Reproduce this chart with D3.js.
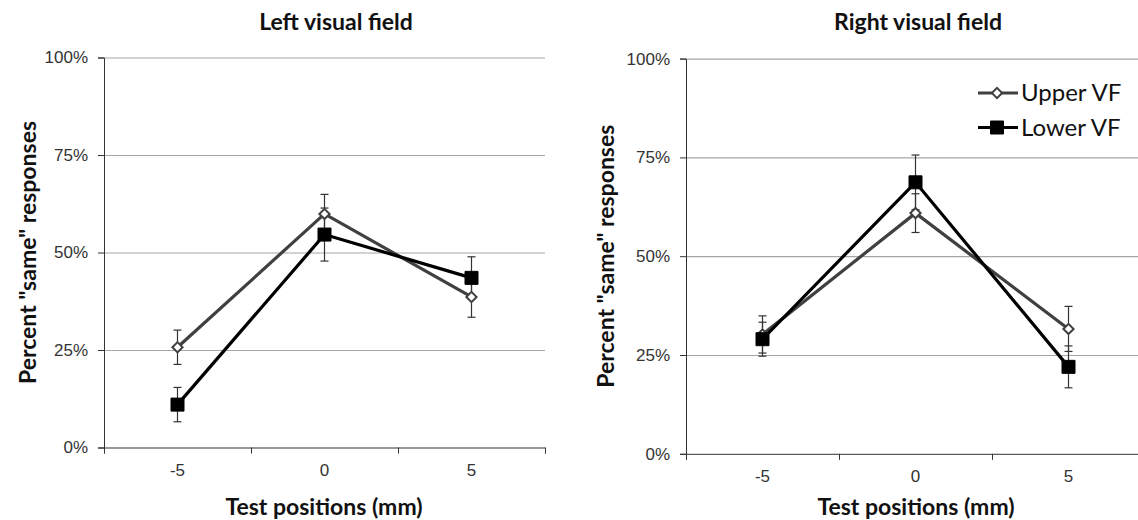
<!DOCTYPE html>
<html>
<head>
<meta charset="utf-8">
<script src="https://cdn.jsdelivr.net/npm/d3@7"></script>
<style>
  body { margin: 0; background: #fff; }
  svg { display: block; font-family: Lato, "Open Sans", sans-serif; }
  .tick-label { font-size: 17px; fill: #333; }
  .panel-title { font-size: 23px; font-weight: bold; fill: #111; }
  .axis-title { font-size: 23px; font-weight: bold; fill: #111; }
  .legend-label { font-size: 24px; fill: #111; }
</style>
</head>
<body>
<svg width="1138" height="520"></svg>
<script>
const svg = d3.select("svg")

// categories and tick labels
const positions = ["-5", "0", "5"]
const yTicks = [0, 25, 50, 75, 100]
const seriesNames = ["Upper VF", "Lower VF"]

// left visual field (percent "same")
const leftUpper = [25.7, 59.9, 38.6]
const leftUpperErr = [4.4, 5.0, 5.2]
const leftLower = [11.0, 54.6, 43.5]
const leftLowerErr = [4.4, 6.8, 5.4]

// right visual field
const rightUpper = [30.2, 60.9, 31.6]
const rightUpperErr = [4.7, 4.9, 5.7]
const rightLower = [29.0, 68.7, 22.0]
const rightLowerErr = [4.3, 6.9, 5.3]

const panels = [
  {
    title: "Left visual field",
    upper: leftUpper, upperErr: leftUpperErr,
    lower: leftLower, lowerErr: leftLowerErr,
    x0: 104, x1: 545, top: 57.5, bottom: 447.5,
    titleX: 336, xTitleX: 324, yTitleX: 28, legend: false
  },
  {
    title: "Right visual field",
    upper: rightUpper, upperErr: rightUpperErr,
    lower: rightLower, lowerErr: rightLowerErr,
    x0: 686, x1: 1145, top: 58.6, bottom: 453.8,
    titleX: 918, xTitleX: 916, yTitleX: 606, legend: true
  }
]

const upperColor = "#404040"
const lowerColor = "#000"

const diamond = d3.symbol().type(d3.symbolSquare).size(52)
const square = d3.symbol().type(d3.symbolSquare).size(169)

const drawPanel = (p) => {
  const xScale = d3.scaleBand().domain(positions).range([p.x0, p.x1])
  const cx = (d) => xScale(d) + xScale.bandwidth() / 2
  const yScale = d3.scaleLinear().domain([0, 100]).range([p.bottom, p.top])
  const idx = d3.scaleLinear().domain([0, positions.length]).range([p.x0, p.x1])
  const g = svg.append("g")

  // gridlines
  const grid = g.append("g")
    .attr("transform", `translate(${p.x0},0)`)
    .call(d3.axisLeft(yScale).tickValues(yTicks.slice(1)).tickSize(-(p.x1 - p.x0)).tickFormat(""))
  grid.select(".domain").remove()
  grid.selectAll("line").attr("stroke", "#a6a6a6").attr("stroke-width", 1.2)

  // y axis
  const yAxisG = g.append("g")
    .attr("transform", `translate(${p.x0},0)`)
    .call(d3.axisLeft(yScale).tickValues(yTicks).tickSize(6).tickPadding(10).tickFormat((d) => d + "%"))
  yAxisG.select(".domain").attr("stroke", "#333")
  yAxisG.selectAll(".tick line").attr("stroke", "#333")
  yAxisG.selectAll("text").attr("class", "tick-label").attr("font-family", null).attr("font-size", null)

  // x axis: boundary ticks + category labels
  const xTickG = g.append("g")
    .attr("transform", `translate(0,${p.bottom})`)
    .call(d3.axisBottom(idx).ticks(positions.length).tickSize(6).tickFormat(""))
  xTickG.selectAll("line, path").attr("stroke", "#333")

  const xAxisG = g.append("g")
    .attr("transform", `translate(0,${p.bottom})`)
    .call(d3.axisBottom(xScale).tickSize(0).tickPadding(16))
  xAxisG.select(".domain").remove()
  xAxisG.selectAll("text").attr("class", "tick-label").attr("font-family", null).attr("font-size", null)

  // titles
  g.append("text").attr("class", "panel-title")
    .attr("x", p.titleX).attr("y", 30).attr("text-anchor", "middle").text(p.title)
  g.append("text").attr("class", "axis-title")
    .attr("x", p.xTitleX).attr("y", 515)
    .attr("text-anchor", "middle").text("Test positions (mm)")
  g.append("text").attr("class", "axis-title")
    .attr("transform", `translate(${p.yTitleX},${(p.top + p.bottom) / 2}) rotate(-90)`)
    .attr("dy", "0.35em")
    .attr("text-anchor", "middle").text('Percent "same" responses')

  const series = [
    { values: p.upper, err: p.upperErr, color: upperColor, sym: diamond, rot: 45, fill: "#fff" },
    { values: p.lower, err: p.lowerErr, color: lowerColor, sym: square, rot: 0, fill: "#000" }
  ]

  // error bars
  series.forEach((s) => {
    const eb = g.append("g").attr("stroke", "#333").attr("stroke-width", 1.2)
    positions.forEach((pos, i) => {
      const x = cx(pos)
      const hi = yScale(s.values[i] + s.err[i])
      const lo = yScale(s.values[i] - s.err[i])
      eb.append("line").attr("x1", x).attr("x2", x).attr("y1", hi).attr("y2", lo)
      eb.append("line").attr("x1", x - 4).attr("x2", x + 4).attr("y1", hi).attr("y2", hi)
      eb.append("line").attr("x1", x - 4).attr("x2", x + 4).attr("y1", lo).attr("y2", lo)
    })
  })

  const line = d3.line().x((d, i) => cx(positions[i])).y((d) => yScale(d))

  series.forEach((s) => {
    g.append("path").datum(s.values)
      .attr("fill", "none").attr("stroke", s.color).attr("stroke-width", 3.2)
      .attr("stroke-linejoin", "miter")
      .attr("d", line)
    g.selectAll(null).data(s.values).enter().append("path")
      .attr("d", s.sym)
      .attr("transform", (d, i) => `translate(${cx(positions[i])},${yScale(d)}) rotate(${s.rot})`)
      .attr("fill", s.fill).attr("stroke", s.color).attr("stroke-width", s.rot ? 2 : 1)
  })

  if (p.legend) {
    const lg = g.append("g").attr("transform", "translate(978,93)")
    series.forEach((s, i) => {
      const row = lg.append("g").attr("transform", `translate(0,${i * 34.5})`)
      row.append("line").attr("x1", 0).attr("x2", 40).attr("stroke", s.color).attr("stroke-width", 3.2)
      row.append("path").attr("d", s.sym)
        .attr("transform", `translate(19,0) rotate(${s.rot})`)
        .attr("fill", s.fill).attr("stroke", s.color).attr("stroke-width", s.rot ? 2 : 1)
      row.append("text").attr("class", "legend-label")
        .attr("x", 43).attr("dy", "0.35em").text(seriesNames[i])
    })
  }
}

panels.forEach(drawPanel)
</script>
</body>
</html>
